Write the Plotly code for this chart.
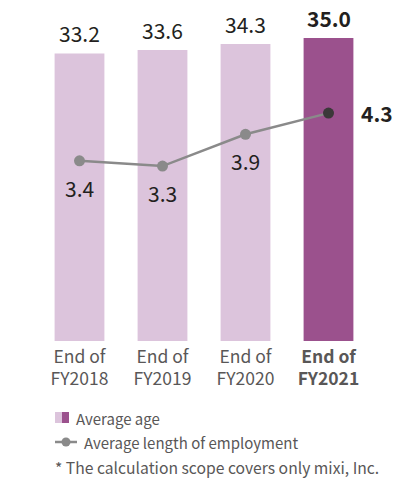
import plotly.graph_objects as go

categories = ["FY2018", "FY2019", "FY2020", "FY2021"]
tick_labels = ["End of<br>FY2018", "End of<br>FY2019", "End of<br>FY2020", "<b>End of<br>FY2021</b>"]
average_age = [33.2, 33.6, 34.3, 35.0]
average_tenure = [3.4, 3.3, 3.9, 4.3]

LIGHT = "#dcc4dc"
DARK = "#9b518d"
LINE = "#8a8a8a"
POINT_DARK = "#3b3839"
TEXT = "#231f20"
TICK = "#595757"
FONT = "Noto Sans CJK JP"

W, H = 404, 481
ML, MR, MT, MB = 38, 34, 20, 140
PW, PH = W - ML - MR, H - MT - MB

def px(x):
    return (x - ML) / PW

def py(y):
    return (H - MB - y) / PH

fig = go.Figure()
fig.add_trace(go.Bar(
    x=categories, y=average_age,
    marker=dict(color=[LIGHT, LIGHT, LIGHT, DARK], line=dict(width=0)),
    width=0.6, name="Average age", showlegend=False, hoverinfo="skip",
))
fig.add_trace(go.Scatter(
    x=categories, y=average_tenure, yaxis="y2", mode="lines+markers",
    line=dict(color=LINE, width=2.5),
    marker=dict(size=11, color=[LINE, LINE, LINE, POINT_DARK]),
    name="Average length of employment", showlegend=False, hoverinfo="skip",
))

annotations = []
for i, (c, v) in enumerate(zip(categories, average_age)):
    last = i == len(categories) - 1
    annotations.append(dict(
        x=c, y=v, xref="x", yref="y", yanchor="bottom", yshift=3,
        text=f"<b>{v:.1f}</b>" if last else f"{v:.1f}", showarrow=False,
        font=dict(family=FONT, size=21, color=TEXT),
    ))
for i, (c, v) in enumerate(zip(categories, average_tenure)):
    last = i == len(categories) - 1
    if last:
        annotations.append(dict(
            x=c, y=v, xref="x", yref="y2", xanchor="left", xshift=30,
            text=f"<b>{v:.1f}</b>", showarrow=False,
            font=dict(family=FONT, size=21, color=TEXT),
        ))
    else:
        annotations.append(dict(
            x=c, y=v, xref="x", yref="y2", yshift=-27,
            text=f"{v:.1f}", showarrow=False,
            font=dict(family=FONT, size=21, color=TEXT),
        ))

# legend
annotations.append(dict(x=px(74), y=py(418), xref="paper", yref="paper", xanchor="left",
                        yanchor="middle", text="Average age", showarrow=False,
                        font=dict(family=FONT, size=15, color=TICK)))
annotations.append(dict(x=px(82), y=py(442), xref="paper", yref="paper", xanchor="left",
                        yanchor="middle", text="Average length of employment", showarrow=False,
                        font=dict(family=FONT, size=15, color=TICK)))
annotations.append(dict(x=px(53), y=py(467), xref="paper", yref="paper", xanchor="left",
                        yanchor="middle", text="* The calculation scope covers only mixi, Inc.",
                        showarrow=False, font=dict(family=FONT, size=15.7, color=TICK)))

shapes = [
    dict(type="rect", xref="paper", yref="paper", x0=px(55), x1=px(62), y0=py(423), y1=py(412),
         fillcolor=LIGHT, line=dict(width=0)),
    dict(type="rect", xref="paper", yref="paper", x0=px(62), x1=px(69), y0=py(423), y1=py(412),
         fillcolor=DARK, line=dict(width=0)),
    dict(type="line", xref="paper", yref="paper", x0=px(55), x1=px(77), y0=py(442), y1=py(442),
         line=dict(color=LINE, width=2.5)),
    dict(type="circle", xref="paper", yref="paper", x0=px(61.5), x1=px(70.5), y0=py(446.5), y1=py(437.5),
         fillcolor=LINE, line=dict(width=0)),
]

fig.update_layout(
    width=W, height=H, margin=dict(l=ML, r=MR, t=MT, b=MB),
    paper_bgcolor="white", plot_bgcolor="white",
    font=dict(family=FONT),
    xaxis=dict(tickmode="array", tickvals=categories, ticktext=tick_labels,
               range=[-0.5, 3.5], showgrid=False, showline=False, zeroline=False,
               ticks="", tickfont=dict(family=FONT, size=17.5, color=TICK), ticklabelstandoff=3),
    yaxis=dict(range=[0, PH / 8.66], visible=False, showgrid=False, zeroline=False),
    yaxis2=dict(range=[0, PH / 53.0], overlaying="y", visible=False, showgrid=False, zeroline=False),
    annotations=annotations, shapes=shapes, showlegend=False,
)

fig.write_html("out.html")
